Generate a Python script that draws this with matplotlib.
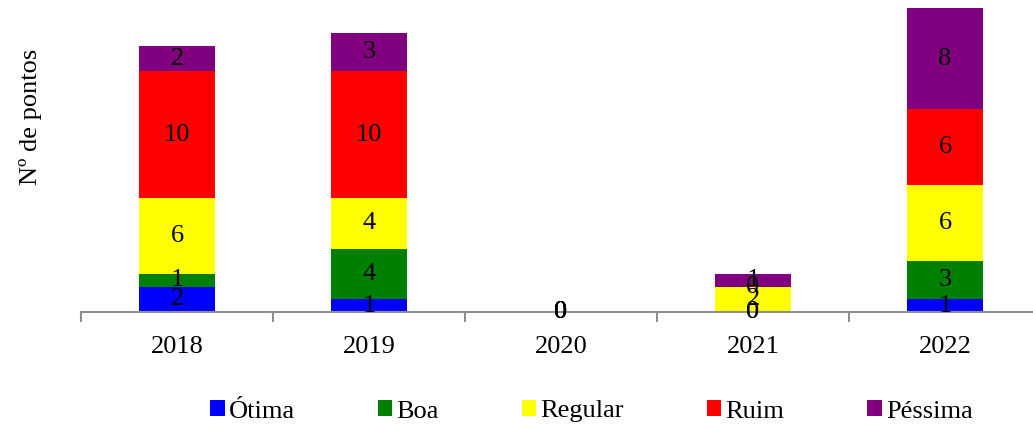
import matplotlib
matplotlib.use("Agg")
import matplotlib.pyplot as plt
import numpy as np

plt.rcParams['font.family'] = ['Liberation Serif', 'DejaVu Serif']

# dados
anos = ['2018', '2019', '2020', '2021', '2022']
otima = [2, 1, 0, 0, 1]
boa = [1, 4, 0, 0, 3]
regular = [6, 4, 0, 2, 6]
ruim = [10, 10, 0, 0, 6]
pessima = [2, 3, 0, 1, 8]

series = [('Ótima', otima, '#0000FF'), ('Boa', boa, '#008000'),
          ('Regular', regular, '#FFFF00'), ('Ruim', ruim, '#FF0000'),
          ('Péssima', pessima, '#800080')]

fig = plt.figure(figsize=(10.33, 4.25), dpi=100)
ax = fig.add_axes([81 / 1033, 113 / 425, 952 / 1033, 304 / 425])

x = np.arange(len(anos))
base = np.zeros(len(anos))
for nome, vals, cor in series:
    vals = np.array(vals)
    ax.bar(x, vals, 0.4, bottom=base, color=cor, label=nome)
    for xi, b, v in zip(x, base, vals):
        ax.text(xi, b + v / 2, str(v), ha='center', va='center', fontsize=19)
    base = base + vals

for s in ['top', 'right', 'left']:
    ax.spines[s].set_visible(False)
ax.spines['bottom'].set_color('#909090')
ax.spines['bottom'].set_linewidth(1.5)
ax.set_yticks([])
ax.set_xticks(x)
ax.set_xticklabels(anos, fontsize=19)
ax.tick_params(axis='x', length=0, pad=17)
ax.set_xticks(np.arange(-0.5, 5, 1), minor=True)
ax.tick_params(axis='x', which='minor', length=7, width=1.5, color='#909090')
# limites depois dos ticks (set_xticks expande o eixo)
ax.set_xlim(-0.5, 4.458)
ax.set_ylim(0, 24)

fig.text(30 / 1033, 1 - 117 / 425, 'Nº de pontos', rotation=90,
         ha='center', va='center', fontsize=19)

fig.legend(loc='lower center', bbox_to_anchor=(0.5725, -0.05), ncol=5,
           frameon=False, fontsize=19, handlelength=0.55, handleheight=0.55,
           handletextpad=0.15, columnspacing=3.15)

fig.savefig('out.png', dpi=100)
